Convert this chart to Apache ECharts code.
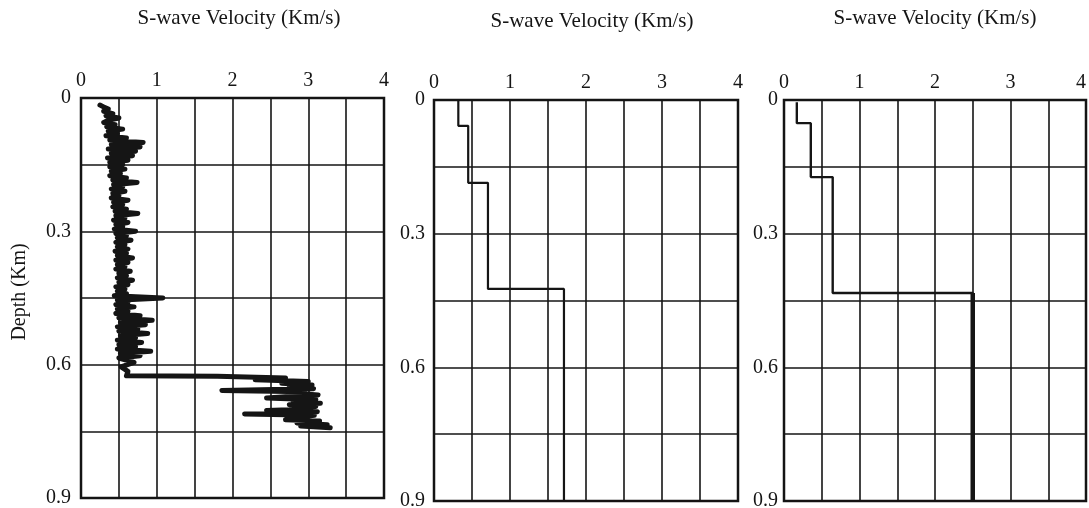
<!DOCTYPE html>
<html>
<head>
<meta charset="utf-8">
<script src="https://cdn.jsdelivr.net/npm/echarts@6/dist/echarts.min.js"></script>
<style>
  html, body { margin: 0; padding: 0; background: #fff; }
  #chart { width: 1089px; height: 508px; }
</style>
</head>
<body>
<div id="chart"></div>
<script>
const p1Vel = [
  0.25, 0.30, 0.36, 0.30, 0.42, 0.33, 0.50, 0.36, 0.30, 0.45, 0.34, 0.55, 0.36, 0.48, 0.33, 0.60, 0.38, 0.82, 0.40, 0.78,
  0.36, 0.72, 0.40, 0.68, 0.35, 0.62, 0.38, 0.55,
  0.38, 0.58, 0.40, 0.52, 0.38, 0.60, 0.42, 0.74, 0.43, 0.55, 0.40, 0.58, 0.42, 0.50, 0.40, 0.62, 0.43, 0.55, 0.42, 0.60,
  0.45, 0.75, 0.46, 0.58, 0.43, 0.62, 0.46, 0.55, 0.44, 0.72,
  0.46, 0.60, 0.48, 0.66, 0.46, 0.58, 0.48, 0.62, 0.45, 0.60, 0.48, 0.68, 0.46, 0.62, 0.48, 0.58, 0.46, 0.65, 0.50, 0.60,
  0.48, 0.68, 0.50, 0.62, 0.46, 0.58, 0.48, 0.60, 0.44, 1.08,
  0.48, 0.62, 0.46, 0.70, 0.48, 0.62, 0.46, 0.78, 0.50, 0.94, 0.52, 0.85, 0.48, 0.75, 0.50, 0.88, 0.52, 0.72, 0.48, 0.80,
  0.50, 0.72, 0.48, 0.92, 0.52, 0.78, 0.50, 0.70, 0.53, 0.62, 0.60,
  1.80, 2.70, 2.30, 3.00, 2.65, 3.05, 2.75, 3.07, 1.86, 2.95, 2.80, 3.13, 2.70, 2.45, 3.10, 2.80, 3.16, 2.75, 3.10, 2.85,
  3.05, 2.45, 3.12, 2.80, 2.16, 3.08, 2.90, 3.00, 2.70, 3.15, 2.85, 3.25, 2.90, 3.29
];
const p1Depth = [
  0.016, 0.020, 0.025, 0.030, 0.035, 0.040, 0.045, 0.050, 0.055, 0.060, 0.065, 0.070, 0.075, 0.080, 0.085, 0.090, 0.095, 0.100, 0.105, 0.110,
  0.115, 0.120, 0.125, 0.130, 0.135, 0.140, 0.145, 0.150,
  0.155, 0.160, 0.165, 0.170, 0.175, 0.180, 0.185, 0.190, 0.195, 0.200, 0.205, 0.210, 0.215, 0.220, 0.225, 0.230, 0.235, 0.240, 0.245, 0.250,
  0.255, 0.260, 0.265, 0.270, 0.275, 0.280, 0.285, 0.290, 0.295, 0.300,
  0.305, 0.310, 0.315, 0.320, 0.325, 0.330, 0.335, 0.340, 0.345, 0.350, 0.355, 0.360, 0.365, 0.370, 0.375, 0.380, 0.385, 0.390, 0.395, 0.400,
  0.405, 0.410, 0.415, 0.420, 0.425, 0.430, 0.435, 0.440, 0.445, 0.450,
  0.455, 0.460, 0.465, 0.470, 0.475, 0.480, 0.485, 0.490, 0.495, 0.500, 0.505, 0.510, 0.515, 0.520, 0.525, 0.530, 0.535, 0.540, 0.545, 0.550,
  0.555, 0.560, 0.565, 0.570, 0.575, 0.580, 0.585, 0.595, 0.605, 0.615, 0.625,
  0.626, 0.630, 0.634, 0.638, 0.642, 0.646, 0.650, 0.654, 0.658, 0.661, 0.664, 0.668, 0.672, 0.675, 0.679, 0.683, 0.687, 0.690, 0.694, 0.697,
  0.700, 0.703, 0.706, 0.709, 0.711, 0.714, 0.718, 0.721, 0.724, 0.727, 0.731, 0.735, 0.738, 0.742
];

// panel 2 and 3: layered models (layer top depth km, velocity km/s)
const p2Top = [0, 0.058, 0.186, 0.424];
const p2Vel = [0.32, 0.45, 0.71, 1.71];
const p3Top = [0.005, 0.052, 0.173, 0.433];
const p3Vel = [0.17, 0.355, 0.645, 2.5];
const modelBottom = 0.9;

const xTicks = [0, 1, 2, 3, 4];
const yTicks = [0, 0.3, 0.6, 0.9];
const titleText = 'S-wave Velocity (Km/s)';
const yName = 'Depth (Km)';

// turn a layered model into staircase points
function steps(tops, vels, from, to) {
  const pts = [];
  for (let i = from; i < to; i++) {
    const bot = i + 1 < tops.length ? tops[i + 1] : modelBottom;
    pts.push([vels[i], tops[i]]);
    pts.push([vels[i], bot]);
  }
  return pts;
}

const font = 'Liberation Serif, Times New Roman, serif';
const ink = '#151515';

const grids = [
  { left: 81, top: 98, width: 303, height: 400 },
  { left: 434, top: 100, width: 304, height: 401 },
  { left: 784, top: 100, width: 302, height: 401 }
];
const yLabelMargin = [10, 9, 6];

const option = {
  animation: false,
  backgroundColor: '#fff',
  grid: grids.map((g) => ({
    ...g,
    show: true,
    borderColor: ink,
    borderWidth: 2.5,
    backgroundColor: 'transparent',
    outerBoundsMode: 'none'
  })),
  xAxis: grids.map((g, i) => ({
    gridIndex: i,
    type: 'value',
    position: 'top',
    min: 0,
    max: 4,
    interval: 0.5,
    axisLine: { show: false },
    axisTick: { show: false },
    axisLabel: {
      margin: 7,
      fontFamily: font,
      fontSize: 20,
      color: ink,
      alignMaxLabel: i === 2 ? 'right' : null,
      formatter: (v) => (xTicks.includes(v) ? String(v) : '')
    },
    splitLine: { show: true, lineStyle: { color: ink, width: 1.6 } }
  })),
  yAxis: grids.map((g, i) => ({
    gridIndex: i,
    type: 'value',
    inverse: true,
    min: 0,
    max: 0.9,
    interval: 0.15,
    axisLine: { show: false },
    axisTick: { show: false },
    axisLabel: {
      margin: yLabelMargin[i],
      fontFamily: font,
      fontSize: 20,
      color: ink,
      formatter: (v) => {
        const hit = yTicks.find((t) => Math.abs(t - v) < 1e-6);
        return hit === undefined ? '' : String(hit);
      }
    },
    splitLine: { show: true, lineStyle: { color: ink, width: 1.6 } }
  })),
  graphic: [
    { type: 'text', x: 239, y: 18, style: { text: titleText, font: '21px ' + font, fill: ink, align: 'center', verticalAlign: 'middle' } },
    { type: 'text', x: 592, y: 21, style: { text: titleText, font: '21px ' + font, fill: ink, align: 'center', verticalAlign: 'middle' } },
    { type: 'text', x: 935, y: 18, style: { text: titleText, font: '21px ' + font, fill: ink, align: 'center', verticalAlign: 'middle' } },
    { type: 'text', x: 20, y: 292, rotation: Math.PI / 2, style: { text: yName, font: '20px ' + font, fill: ink, align: 'center', verticalAlign: 'middle' } }
  ],
  series: [
    {
      type: 'line',
      xAxisIndex: 0,
      yAxisIndex: 0,
      data: p1Vel.map((v, i) => [v, p1Depth[i]]),
      showSymbol: false,
      lineStyle: { color: ink, width: 5, join: 'round', cap: 'round' }
    },
    {
      type: 'line',
      xAxisIndex: 1,
      yAxisIndex: 1,
      data: steps(p2Top, p2Vel, 0, p2Top.length),
      showSymbol: false,
      lineStyle: { color: ink, width: 2.2 }
    },
    {
      type: 'line',
      xAxisIndex: 2,
      yAxisIndex: 2,
      data: steps(p3Top, p3Vel, 0, p3Top.length),
      showSymbol: false,
      lineStyle: { color: ink, width: 2.4 }
    },
    {
      type: 'line',
      xAxisIndex: 2,
      yAxisIndex: 2,
      data: steps(p3Top, p3Vel, p3Top.length - 1, p3Top.length),
      showSymbol: false,
      lineStyle: { color: ink, width: 4.5 }
    }
  ]
};

const chart = echarts.init(document.getElementById('chart'));
chart.setOption(option);
</script>
</body>
</html>
